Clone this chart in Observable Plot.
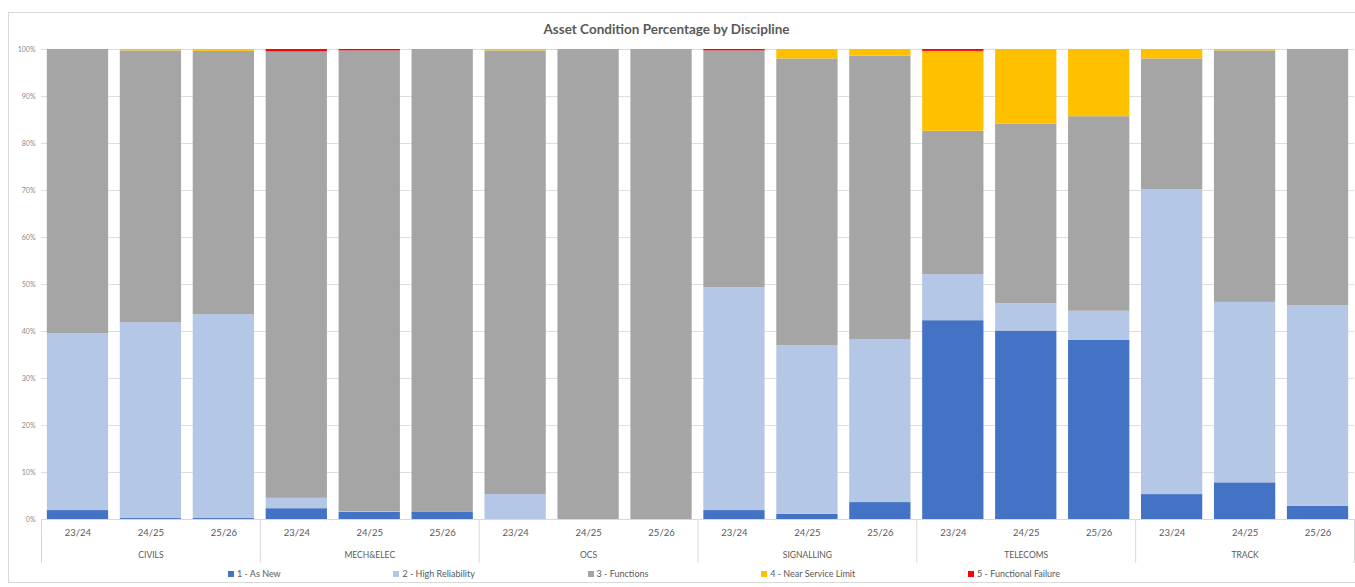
<!DOCTYPE html>
<html><head><meta charset="utf-8">
<script src="https://cdn.jsdelivr.net/npm/d3@7"></script>
<script src="https://cdn.jsdelivr.net/npm/@observablehq/plot@0.6"></script>
<style>
html,body{margin:0;padding:0;background:#fff;overflow:hidden;width:1355px;height:587px;}
body{position:relative;font-family:Lato,"Open Sans",sans-serif;}
#frame{position:absolute;left:8px;top:12px;width:1360px;height:571px;border:1px solid #d9d9d9;box-sizing:border-box;}
#title{position:absolute;left:0;top:21px;width:1333px;text-align:center;font-weight:bold;font-size:13.5px;line-height:16px;color:#595959;}
#chart{position:absolute;left:0;top:40px;}
#legend{position:absolute;left:228px;top:568px;width:832px;display:flex;justify-content:space-between;font-size:9px;line-height:12px;color:#595959;}
#legend .sw{display:inline-block;width:6px;height:6px;margin-right:3px;vertical-align:0px;}
</style></head>
<body>
<div id="frame"></div>
<div id="title">Asset Condition Percentage by Discipline</div>
<div id="chart"></div>
<div id="legend"></div>
<script>
const disciplines = ["CIVILS","MECH&ELEC","OCS","SIGNALLING","TELECOMS","TRACK"];
const years = ["23/24","24/25","25/26"];
const conditions = ["1 - As New","2 - High Reliability","3 - Functions","4 - Near Service Limit","5 - Functional Failure"];
const colors = ["#4472C4","#B4C7E7","#A5A5A5","#FFC000","#FF0000"];
// values in bar order: discipline by discipline, years 23/24, 24/25, 25/26
const asNew            = [1.9, 0.2, 0.2,  2.3, 1.5, 1.5,  0.0, 0.0, 0.0,  1.9, 1.1, 3.6,  42.3, 40.1, 38.1,  5.3, 7.8, 2.8];
const highReliability  = [37.6,41.7,43.4, 2.2, 0.1, 0.0,  5.3, 0.0, 0.0,  47.4,35.9,34.6, 9.8,  5.8,  6.2,   64.9,38.4,42.7];
const functionsVals    = [60.5,57.8,56.0, 95.0,98.1,98.5, 94.4,100, 100,  50.4,61.0,60.4, 30.5, 38.2, 41.4,  27.8,53.5,54.5];
const nearServiceLimit = [0.0, 0.3, 0.4,  0.0, 0.0, 0.0,  0.3, 0.0, 0.0,  0.0, 2.0, 1.4,  17.0, 15.9, 14.3,  2.0, 0.3, 0.0];
const functionalFailure= [0.0, 0.0, 0.0,  0.5, 0.3, 0.0,  0.0, 0.0, 0.0,  0.3, 0.0, 0.0,  0.4,  0.0,  0.0,   0.0, 0.0, 0.0];
const yTicks = [0,10,20,30,40,50,60,70,80,90,100];

const series = [asNew, highReliability, functionsVals, nearServiceLimit, functionalFailure];
const keys = [];
disciplines.forEach(d => years.forEach(y => keys.push(d + "|" + y)));
const long = [];
keys.forEach((k, i) => conditions.forEach((c, j) => long.push({key: k, cond: c, value: series[j][i]})));
const groups = disciplines.map((d, i) => ({name: d, first: keys[i*3], mid: keys[i*3+1]}));

const W = 1355, H = 530, mL = 41, mR = 1, mT = 9, mB = 51;
const pInner = 0.16, pOuter = 0.08;
const step = (W - mL - mR) / (keys.length - pInner + 2 * pOuter);

const chart = Plot.plot({
  width: W, height: H, marginLeft: mL, marginRight: mR, marginTop: mT, marginBottom: mB,
  style: {fontFamily: "Lato, 'Open Sans', sans-serif", background: "transparent", color: "#595959"},
  x: {domain: keys, paddingInner: pInner, paddingOuter: pOuter, round: false, axis: null},
  y: {domain: [0, 100], axis: null},
  color: {domain: conditions, range: colors},
  marks: [
    Plot.gridY(yTicks, {stroke: "#dedede", strokeOpacity: 1}),
    Plot.axisY(yTicks, {tickFormat: d => d + "%", tickSize: 0, tickPadding: 6, fontSize: 7, color: "#8a8a8a", label: null}),
    Plot.barY(long, Plot.stackY({x: "key", y: "value", fill: "cond", order: conditions})),
    Plot.ruleY([0], {stroke: "#d9d9d9"}),
    Plot.axisX(keys, {tickFormat: k => k.split("|")[1], tickSize: 0, tickPadding: 10, fontSize: 9.5, color: "#595959", label: null}),
    Plot.text(groups, {x: "mid", y: () => 0, text: "name", dy: 36, fontSize: 8.5, fill: "#595959"}),
    Plot.ruleX(groups, {x: "first", y1: () => 0, y2: () => 0, insetBottom: -44, dx: -step / 2, stroke: "#d9d9d9"}),
    Plot.ruleX([keys[keys.length - 1]], {x: d => d, y1: () => 0, y2: () => 0, insetBottom: -44, dx: step / 2, stroke: "#d9d9d9"})
  ]
});
document.getElementById("chart").appendChild(chart);

const legend = document.getElementById("legend");
conditions.forEach((c, i) => {
  const item = document.createElement("span");
  const sw = document.createElement("span");
  sw.className = "sw";
  sw.style.background = colors[i];
  item.appendChild(sw);
  item.appendChild(document.createTextNode(c));
  legend.appendChild(item);
});
</script>
</body></html>
